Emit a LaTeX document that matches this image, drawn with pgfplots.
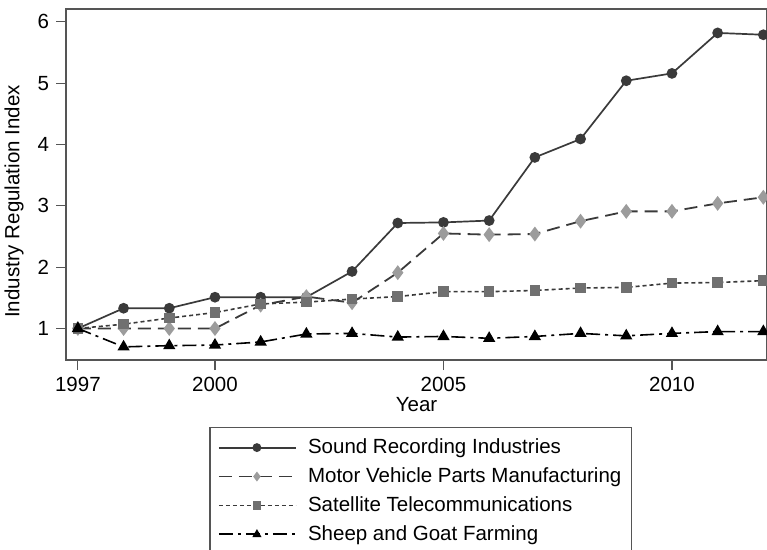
\documentclass[border=0pt]{standalone}
\usepackage{fontspec}
\setmainfont{Liberation Sans}
\usepackage{pgfplots}
\pgfplotsset{compat=1.18}
\definecolor{axgray}{HTML}{555555}
\definecolor{sound}{HTML}{3A3A3A}
\definecolor{motorm}{HTML}{9C9C9C}
\definecolor{satm}{HTML}{707070}
\begin{document}
\fontsize{20.5}{24}\selectfont
\begin{tikzpicture}
\begin{axis}[at={(0pt,0pt)}, anchor=south west, scale only axis,
  width=701pt, height=351pt,
  xmin=1996.74, xmax=2012.08, ymin=0.486, ymax=6.21,
  xtick={1997,2000,2005,2010}, ytick={1,2,3,4,5,6},
  /pgf/number format/assume math mode=true,
  x tick label style={/pgf/number format/1000 sep={}},
  tick align=outside, major tick length=10pt,
  tick style={axgray, line width=1.2pt},
  axis line style={axgray, line width=1.5pt},
  xtick pos=bottom, ytick pos=left,
  xlabel={Year}, ylabel={Industry Regulation Index},
  xlabel style={yshift=8pt},
  ylabel style={xshift=-17pt},
  clip=false,
  legend cell align=left,
  legend style={at={(0.506,-0.191)}, anchor=north, draw=axgray, line width=1.2pt,
    row sep=7pt, inner xsep=8pt, inner ysep=9pt, font=\fontsize{20.5}{24}\selectfont},
  legend image code/.code={\draw[line width=1.8pt, mark repeat=2,mark phase=2, mark size=3.5pt] plot coordinates {(0pt,0pt) (38pt,0pt) (77pt,0pt)};
    \path[draw=none, fill=none] (87pt,0pt) circle (0.1pt);},
]
\addplot[sound, line width=1.7pt, mark=*, mark size=4.5pt, mark options={solid, fill=sound, draw=sound}] coordinates {
(1997,1.00) (1998,1.33) (1999,1.33) (2000,1.51) (2001,1.51) (2002,1.51) (2003,1.93) (2004,2.72)
(2005,2.73) (2006,2.76) (2007,3.79) (2008,4.09) (2009,5.04) (2010,5.16) (2011,5.82) (2012,5.79)};
\addlegendentry{Sound Recording Industries}
\addplot[sound, line width=1.8pt, dash pattern=on 13pt off 7pt, mark=diamond*, mark size=6pt, mark options={solid, fill=motorm, draw=motorm}] coordinates {
(1997,1.00) (1998,1.00) (1999,1.00) (2000,1.00) (2001,1.38) (2002,1.52) (2003,1.42) (2004,1.91)
(2005,2.55) (2006,2.53) (2007,2.54) (2008,2.75) (2009,2.91) (2010,2.91) (2011,3.04) (2012,3.14)};
\addlegendentry{Motor Vehicle Parts Manufacturing\hspace{22pt}}
\addplot[sound, line width=1.6pt, dash pattern=on 4pt off 3pt, mark=square*, mark size=4.5pt, mark options={solid, fill=satm, draw=satm}] coordinates {
(1997,1.00) (1998,1.07) (1999,1.17) (2000,1.26) (2001,1.40) (2002,1.43) (2003,1.48) (2004,1.52)
(2005,1.60) (2006,1.60) (2007,1.62) (2008,1.66) (2009,1.67) (2010,1.74) (2011,1.75) (2012,1.78)};
\addlegendentry{Satellite Telecommunications}
\addplot[black, line width=1.6pt, dash pattern=on 14pt off 5pt on 3pt off 5pt, mark=triangle*, mark size=5.5pt, mark options={solid, fill=black, draw=black}] coordinates {
(1997,1.00) (1998,0.70) (1999,0.72) (2000,0.73) (2001,0.78) (2002,0.91) (2003,0.92) (2004,0.86)
(2005,0.87) (2006,0.84) (2007,0.87) (2008,0.92) (2009,0.88) (2010,0.92) (2011,0.95) (2012,0.95)};
\addlegendentry{Sheep and Goat Farming}
\end{axis}
\pgfresetboundingbox
\useasboundingbox (-66pt,-189pt) rectangle (701pt,360pt);
\end{tikzpicture}
\end{document}
